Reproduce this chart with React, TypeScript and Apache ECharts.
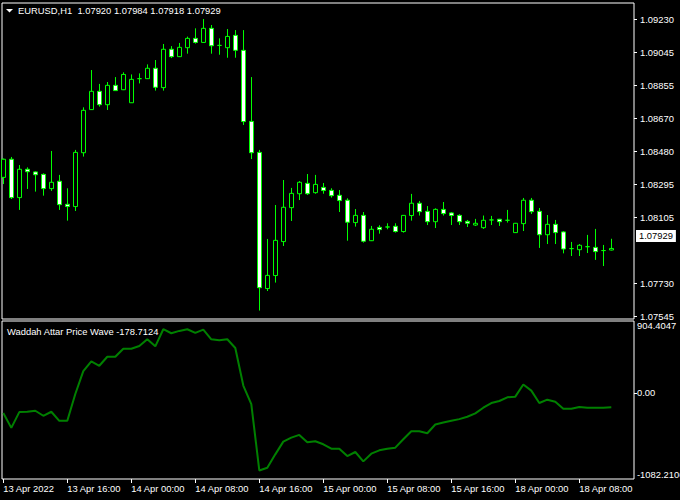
import React, { useEffect, useRef } from "react";
import * as echarts from "echarts";

const symbolName = "EURUSD,H1";
const indicatorName = "Waddah Attar Price Wave";

const opens = [
  1.08333, 1.08436, 1.08218, 1.08379, 1.08364, 1.0835, 1.08269, 1.08311, 1.0818, 1.08167,
  1.08473, 1.08718, 1.08822, 1.08746, 1.08856, 1.08831, 1.08757, 1.08894, 1.08894, 1.08953,
  1.08843, 1.09061, 1.09019, 1.0907, 1.09123, 1.091, 1.0918, 1.09083, 1.0907, 1.0914,
  1.09055, 1.08651, 1.08475, 1.07701, 1.07775, 1.07968, 1.08161, 1.0824, 1.08299, 1.08246,
  1.08276, 1.08259, 1.08231, 1.08203, 1.08076, 1.08117, 1.07973, 1.08049, 1.08051, 1.08055,
  1.08025, 1.08116, 1.08186, 1.0814, 1.08081, 1.08151, 1.08131, 1.08117, 1.08083, 1.08062,
  1.08047, 1.08091, 1.08095, 1.08089, 1.08019, 1.0807, 1.08203, 1.0814, 1.08007, 1.08066,
  1.08023, 1.07928, 1.07922, 1.07939, 1.07935, 1.07917, 1.0792,
];
const closes = [
  1.08436, 1.08218, 1.08379, 1.08365, 1.08348, 1.08269, 1.08305, 1.08178, 1.08167, 1.08475,
  1.08714, 1.08822, 1.08746, 1.08856, 1.08826, 1.08918, 1.0889, 1.08894, 1.08953, 1.08845,
  1.09061, 1.09019, 1.09072, 1.09123, 1.091, 1.0918, 1.09081, 1.09083, 1.09134, 1.09055,
  1.0865, 1.08473, 1.07706, 1.07776, 1.07975, 1.08163, 1.08242, 1.08305, 1.0824, 1.08293,
  1.08258, 1.08229, 1.08201, 1.08078, 1.08117, 1.0797, 1.08038, 1.08036, 1.08051, 1.08025,
  1.08117, 1.08186, 1.08138, 1.08081, 1.08151, 1.08127, 1.08116, 1.08081, 1.08072, 1.08072,
  1.08089, 1.08091, 1.08081, 1.08089, 1.08072, 1.08203, 1.08138, 1.08007, 1.08066, 1.08019,
  1.07926, 1.07928, 1.07947, 1.07939, 1.07911, 1.07917, 1.07929,
];
const lows = [
  1.08295, 1.0821, 1.08148, 1.08267, 1.08252, 1.08229, 1.08256, 1.08148, 1.08087, 1.08142,
  1.08451, 1.08716, 1.08735, 1.08716, 1.08824, 1.08829, 1.08756, 1.08867, 1.08892, 1.08826,
  1.08826, 1.09011, 1.09017, 1.09036, 1.09093, 1.09098, 1.09036, 1.0903, 1.09013, 1.09013,
  1.08631, 1.08437, 1.07576, 1.07687, 1.07735, 1.07943, 1.08085, 1.08204, 1.08233, 1.0824,
  1.0824, 1.08218, 1.08136, 1.07973, 1.08053, 1.07962, 1.07971, 1.08013, 1.08038, 1.08019,
  1.08019, 1.08087, 1.08116, 1.08062, 1.08045, 1.08116, 1.08062, 1.08062, 1.08051, 1.08057,
  1.0804, 1.08062, 1.08057, 1.08076, 1.08017, 1.08028, 1.08125, 1.07932, 1.07954, 1.07954,
  1.07901, 1.07886, 1.07886, 1.07903, 1.07864, 1.07829, 1.07918,
];
const highs = [
  1.0844, 1.08449, 1.08403, 1.0839, 1.08367, 1.08356, 1.08483, 1.08347, 1.08271, 1.08489,
  1.08731, 1.08943, 1.08864, 1.08875, 1.08903, 1.0893, 1.08918, 1.08924, 1.08975, 1.09,
  1.09091, 1.09079, 1.09097, 1.09133, 1.0918, 1.09233, 1.09199, 1.09123, 1.09176, 1.0917,
  1.0917, 1.08903, 1.08489, 1.07983, 1.08176, 1.08318, 1.08273, 1.08312, 1.08352, 1.08347,
  1.08301, 1.08271, 1.08261, 1.08214, 1.08153, 1.08136, 1.08057, 1.08061, 1.08072, 1.08072,
  1.08119, 1.08239, 1.08199, 1.0817, 1.08157, 1.08193, 1.08136, 1.08123, 1.08091, 1.08097,
  1.08116, 1.08114, 1.08097, 1.08148, 1.08074, 1.08216, 1.08216, 1.08159, 1.08119, 1.08091,
  1.08028, 1.07966, 1.07954, 1.08006, 1.0804, 1.07949, 1.07984,
];

const waveValues = [
  -253.5, -439.1, -240.8, -236.6, -224.0, -287.2, -236.6, -350.5, -350.5, -13.1,
  273.8, 396.1, 341.3, 455.1, 455.1, 556.4, 556.4, 590.1, 674.5, 585.9,
  801.0, 750.4, 779.9, 801.0, 754.6, 796.8, 674.5, 661.8, 674.5, 564.8,
  92.4, -139.6, -974.8, -941.0, -772.3, -612.0, -561.4, -527.6, -620.4, -607.8,
  -645.8, -700.6, -700.6, -793.4, -742.8, -860.9, -763.9, -721.7, -700.6, -687.9,
  -582.5, -481.2, -481.2, -506.6, -396.9, -371.6, -350.5, -329.4, -299.9, -257.7,
  -186.0, -126.9, -101.6, -55.2, -46.8, 105.1, 29.1, -126.9, -84.8, -110.1,
  -198.6, -198.6, -177.6, -186.0, -186.0, -186.0, -178.7124,
];

const priceTicks = [1.0923, 1.09045, 1.08855, 1.0867, 1.0848, 1.08295, 1.08105, 1.0773, 1.07545];
const priceMin = 1.07528;
const priceMax = 1.09324;

const waveMin = -1082.2106;
const waveMax = 904.4047;
const waveZero = 0;
const waveMaxLabel = "904.4047";
const waveZeroLabel = "0.00";
const waveMinLabel = "-1082.2106";

const timeTickIndex = [0, 8, 16, 24, 32, 40, 48, 56, 64, 72];
const timeTickLabels = [
  "13 Apr 2022", "13 Apr 16:00", "14 Apr 00:00", "14 Apr 08:00", "14 Apr 16:00",
  "15 Apr 00:00", "15 Apr 08:00", "15 Apr 16:00", "18 Apr 00:00", "18 Apr 08:00",
];

const FONT = "Liberation Sans";
const FS = 9.4;

export default function App() {
  const ref = useRef<HTMLDivElement>(null);

  useEffect(() => {
    if (!ref.current) return;
    const chart = echarts.init(ref.current, null, { renderer: "svg" });
    const n = opens.length;
    const last = n - 1;
    const bars = opens.map((o, i) => [i, o, closes[i], lows[i], highs[i]]);
    const wave = waveValues.map((v, i) => [i, v]);
    const xMin = -0.1625;
    const xMax = xMin + 79;
    const f5 = (v: number) => v.toFixed(5);
    const titleText = `${symbolName}  ${f5(opens[last])} ${f5(highs[last])} ${f5(lows[last])} ${f5(closes[last])}`;
    const indText = `${indicatorName} ${waveValues[last].toFixed(4)}`;

    const waveAxis = (values: number[], labels: string[], vAlign: string, ticks: boolean) => ({
      type: "value", gridIndex: 1, position: "right", min: waveMin, max: waveMax,
      axisLine: { show: false, onZero: false },
      axisTick: { show: ticks, customValues: values, length: 3, lineStyle: { color: "#ffffff" } },
      axisLabel: {
        show: true, customValues: values, margin: 3, color: "#ffffff", fontFamily: FONT, fontSize: FS,
        verticalAlign: vAlign,
        formatter: (v: number) => {
          const i = values.findIndex((t) => Math.abs(t - v) < 1e-6);
          return i >= 0 ? labels[i] : "";
        },
      },
      splitLine: { show: false },
    });

    chart.setOption({
      animation: false,
      backgroundColor: "#000000",
      grid: [
        {
          left: 2, top: 3, width: 632, height: 316, show: true, borderColor: "#ffffff", borderWidth: 1,
          backgroundColor: "#000000", containLabel: false, outerBoundsMode: "none",
        },
        {
          left: 2, top: 321, width: 632, height: 158, show: true, borderColor: "#ffffff", borderWidth: 1,
          backgroundColor: "#000000", containLabel: false, outerBoundsMode: "none",
        },
      ],
      xAxis: [
        {
          type: "value", gridIndex: 0, min: xMin, max: xMax, position: "bottom",
          axisLine: { show: false, onZero: false }, axisTick: { show: false }, axisLabel: { show: false }, splitLine: { show: false },
        },
        {
          type: "value", gridIndex: 1, min: xMin, max: xMax, position: "bottom",
          axisLine: { show: false, onZero: false },
          axisTick: { show: true, customValues: timeTickIndex, length: 4, lineStyle: { color: "#ffffff" } },
          axisLabel: {
            show: true, customValues: timeTickIndex, align: "left", margin: 5,
            color: "#ffffff", fontFamily: FONT, fontSize: FS,
            formatter: (v: number) => timeTickLabels[timeTickIndex.indexOf(Math.round(v))] ?? "",
          },
          splitLine: { show: false },
        },
      ],
      yAxis: [
        {
          type: "value", gridIndex: 0, position: "right", min: priceMin, max: priceMax,
          axisLine: { show: false, onZero: false },
          axisTick: { show: true, customValues: priceTicks, length: 3, lineStyle: { color: "#ffffff" } },
          axisLabel: {
            show: true, customValues: priceTicks, margin: 6, color: "#ffffff", fontFamily: FONT, fontSize: FS,
            formatter: (v: number) => v.toFixed(5),
          },
          splitLine: { show: false },
        },
        waveAxis([waveZero], [waveZeroLabel], "middle", true),
        waveAxis([waveMax], [waveMaxLabel], "top", false),
        waveAxis([waveMin], [waveMinLabel], "bottom", false),
      ],
      series: [
        {
          type: "candlestick", xAxisIndex: 0, yAxisIndex: 0, data: bars,
          encode: { x: 0, y: [1, 2, 3, 4] },
          barWidth: 4,
          itemStyle: { color: "#000000", color0: "#ffffff", borderColor: "#00ff00", borderColor0: "#00ff00", borderWidth: 1 },
          markLine: {
            silent: true, symbol: ["none", "none"],
            lineStyle: { color: "rgba(0,0,0,0)", width: 0 },
            label: {
              show: true, position: "end", distance: 2, formatter: f5(closes[last]),
              backgroundColor: "#ffffff", color: "#000000", fontFamily: FONT, fontSize: FS, padding: [2, 3, 1, 3],
            },
            data: [{ yAxis: closes[last] }],
          },
        },
        {
          type: "line", xAxisIndex: 1, yAxisIndex: 1, data: wave, showSymbol: false, symbol: "none",
          lineStyle: { color: "#008000", width: 2 }, itemStyle: { color: "#008000" },
        },
      ],
      graphic: [
        { type: "polygon", shape: { points: [[6, 9], [13, 9], [9.5, 12.5]] }, style: { fill: "#ffffff" } },
        { type: "text", x: 18, y: 10.5, style: { text: titleText, fill: "#ffffff", fontFamily: FONT, fontSize: FS, verticalAlign: "middle" } },
        { type: "text", x: 7, y: 331, style: { text: indText, fill: "#ffffff", fontFamily: FONT, fontSize: FS, verticalAlign: "middle" } },
      ],
    });
    return () => chart.dispose();
  }, []);

  return (
    <div
      ref={ref}
      style={{ position: "absolute", left: 0, top: 0, width: 680, height: 500, background: "#000000" }}
    />
  );
}
